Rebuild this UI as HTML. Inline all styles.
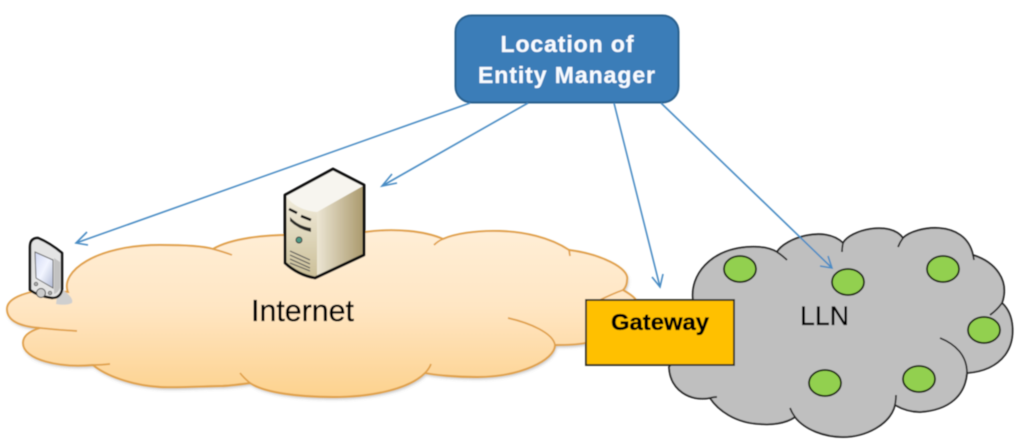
<!DOCTYPE html>
<html><head><meta charset="utf-8"><style>html,body{margin:0;padding:0;background:#fff;width:1024px;height:442px;overflow:hidden}svg{display:block}text{font-family:"Liberation Sans",sans-serif}</style></head><body>
<svg width="1024" height="442" viewBox="0 0 1024 442" xmlns="http://www.w3.org/2000/svg">
<defs>
<linearGradient id="o" x1="0" y1="0" x2="0" y2="1"><stop offset="0" stop-color="#ffeed6"/><stop offset=".45" stop-color="#ffe6c4"/><stop offset="1" stop-color="#fdd28e"/></linearGradient>
<linearGradient id="sf" x1="0" y1="0" x2="0" y2="1"><stop offset="0" stop-color="#f1ecdc"/><stop offset="1" stop-color="#cbbf98"/></linearGradient>
<linearGradient id="sr" x1="0" y1="0" x2="1" y2="0"><stop offset="0" stop-color="#ece6d4"/><stop offset="1" stop-color="#ab9a6e"/></linearGradient>
<linearGradient id="sc" x1="0" y1="0" x2="1" y2="1"><stop offset="0" stop-color="#d0d7f3"/><stop offset=".5" stop-color="#f2f5ff"/><stop offset="1" stop-color="#b0b9d4"/></linearGradient>
<filter id="b" x="-5%" y="-5%" width="110%" height="110%"><feGaussianBlur stdDeviation="0.55"/></filter>
<filter id="s" x="-5%" y="-5%" width="110%" height="110%"><feGaussianBlur stdDeviation="1.5"/></filter>
</defs>
<g filter="url(#b)">
<!-- orange cloud shadow -->
<path d="M68 292C60 272 95 245 160 245C185 245 203 246 213 249C232 238 265 235 290 235C320 233 345 232 365 232C395 228 425 231 443 239C465 229 530 224 569 250C600 254 630 268 627 280C627 285 625 288 623 290C630 294 636 298 637 302L640 320L585 343C575 345 565 345 555 345C555 360 520 377 477 377C455 377 435 375 425 373C410 388 375 397 333 397C300 397 265 393 250 383C235 385 225 386 220 386C205 386 178 388 160 387C130 385 105 375 93 365C60 368 23 360 23 343C23 336 30 331 40 328C15 326 7 318 7 309C7 298 25 293 40 290L68 292Z" fill="#777" opacity=".5" transform="translate(1,2)" filter="url(#s)"/>
<!-- orange cloud -->
<path d="M68 292C60 272 95 245 160 245C185 245 203 246 213 249C232 238 265 235 290 235C320 233 345 232 365 232C395 228 425 231 443 239C465 229 530 224 569 250C600 254 630 268 627 280C627 285 625 288 623 290C630 294 636 298 637 302L640 320L585 343C575 345 565 345 555 345C555 360 520 377 477 377C455 377 435 375 425 373C410 388 375 397 333 397C300 397 265 393 250 383C235 385 225 386 220 386C205 386 178 388 160 387C130 385 105 375 93 365C60 368 23 360 23 343C23 336 30 331 40 328C15 326 7 318 7 309C7 298 25 293 40 290L68 292Z" fill="url(#o)" stroke="#e0a048" stroke-width="1.9"/>
<g fill="none" stroke="#e0a048" stroke-width="1.7">
<path d="M213 249Q224 252 232 255"/><path d="M40 328Q58 330 77 331"/><path d="M93 365Q102 365 110 364"/><path d="M250 383Q244 378 240 373"/><path d="M425 373Q429 369 431 364"/><path d="M555 345C553 333 530 323 508 318"/><path d="M443 239Q438 241 434 245"/><path d="M569 250L570 256"/><path d="M623 290Q612 294 600 300"/>
</g>
<!-- phone shadow -->
<path d="M58 290L63 290Q74 298 72 303Q66 306 56 304Z" fill="#cfcfcf"/>
<!-- gray cloud -->
<path d="M693 300C690 275 710 250 747 247C760 246 770 248 777 252C785 238 825 225 843 243C850 230 890 220 903 238C915 226 965 218 973 255C995 262 1010 280 1002 303C1015 315 1016 340 1005 355C995 368 980 372 967 373C965 395 950 410 920 412C910 412 902 409 895 405C890 425 865 437 843 437C825 437 805 430 795 417C785 424 770 425 760 424C735 423 718 410 710 398C690 402 670 390 669 367L690 340Z" fill="#bfbfbf" stroke="#222" stroke-width="1.8"/>
<g fill="none" stroke="#222" stroke-width="1.7">
<path d="M777 252Q783 256 787 260"/><path d="M843 243Q842 248 842 252"/><path d="M903 238Q900 242 898 247"/><path d="M973 255L974 260"/><path d="M1002 303Q997 310 990 315"/><path d="M940 338C955 344 967 355 967 373"/><path d="M895 405Q896 400 896 395"/><path d="M795 417Q792 413 790 408"/><path d="M710 398Q713 397 717 397"/>
</g>
<g fill="#92d050" stroke="#141f0a" stroke-width="1.8">
<ellipse cx="740" cy="269" rx="16" ry="13"/><ellipse cx="848" cy="282" rx="16" ry="13"/><ellipse cx="943" cy="269" rx="16" ry="13"/><ellipse cx="984" cy="330" rx="16" ry="13"/><ellipse cx="919" cy="379" rx="16" ry="13"/><ellipse cx="825" cy="383" rx="16" ry="13"/>
</g>
<!-- gateway -->
<rect x="586" y="300" width="148" height="65" fill="#ffc000" stroke="#2a2a20" stroke-width="1.8"/>
<text x="660" y="330" font-size="23.5" font-weight="700" text-anchor="middle" fill="#000" stroke="#000" stroke-width=".35" textLength="98" lengthAdjust="spacingAndGlyphs">Gateway</text>
<text x="800" y="325" font-size="27" fill="#000" stroke="#000" stroke-width=".3" textLength="49" lengthAdjust="spacingAndGlyphs">LLN</text>
<text x="251" y="321" font-size="30.5" fill="#000" stroke="#000" stroke-width=".3" textLength="103" lengthAdjust="spacingAndGlyphs">Internet</text>
<!-- server -->
<path d="M286 196L333 170L363 186L317 212Q296 210 286 196Z" fill="#f7f5ef"/>
<path d="M286 196Q296 210 317 212V277Q298 275 286 263Z" fill="url(#sf)"/>
<path d="M317 212L363 186V254L317 277Z" fill="url(#sr)"/>
<path d="M285 195L333 169L364 185V255L315 278Q298 275 285 263Z" fill="none" stroke="#0c0c0c" stroke-width="2.9" stroke-linejoin="round"/>
<path d="M289 209L297 213M301 216L311 220" stroke="#111" stroke-width="2.6" fill="none"/>
<path d="M290 217Q298 226 311 228V232Q298 229 290 221Z" fill="#2c2c26"/>
<circle cx="299" cy="240" r="3" fill="#4f9a86" stroke="#333" stroke-width=".9"/>
<g stroke="#555" stroke-width="1.2" fill="none"><path d="M290 251L310 260M290 255L310 264M290 259L310 268M290 263L310 271"/></g>
<!-- phone -->
<path d="M30 247Q30 238 38 238Q50 243 62 253V290Q60 298 52 298Q38 296 30 290Z" fill="#e4e4e4" stroke="#0c0c0c" stroke-width="2.5" stroke-linejoin="round"/>
<path d="M54 258L60 262V288Q58 293 54 294Z" fill="#c2c2c2"/>
<path d="M35 252L53 260V288L36 278Z" fill="url(#sc)" stroke="#666" stroke-width="1"/>
<circle cx="41" cy="293" r="4.5" fill="#ccc" stroke="#444"/>
<circle cx="36" cy="284" r="1.8" fill="#aaa" stroke="#444" stroke-width=".7"/><circle cx="50" cy="293" r="1.8" fill="#aaa" stroke="#444" stroke-width=".7"/>
<!-- box -->
<rect x="455.5" y="15.5" width="223" height="87" rx="16" fill="#3a7db8" stroke="#2c618e" stroke-width="2"/>
<text x="567" y="52" font-size="23" font-weight="700" fill="#f8fbff" stroke="#f8fbff" stroke-width=".2" text-anchor="middle" textLength="133" lengthAdjust="spacing">Location of</text>
<text x="566.5" y="83" font-size="23" font-weight="700" fill="#f8fbff" stroke="#f8fbff" stroke-width=".2" text-anchor="middle" textLength="177" lengthAdjust="spacing">Entity Manager</text>
<!-- arrows -->
<g fill="none" stroke="#4a8cc4" stroke-width="1.6">
<path d="M470 103L76 243M87 232L76 243L88 245"/>
<path d="M528 103L382 186M392 174L382 186L397 183"/>
<path d="M614 103L660 287M652 277L660 287L663 274"/>
<path d="M661 103L832 268M820 266L832 268L828 256"/>
</g>
</g>
</svg>
</body></html>
